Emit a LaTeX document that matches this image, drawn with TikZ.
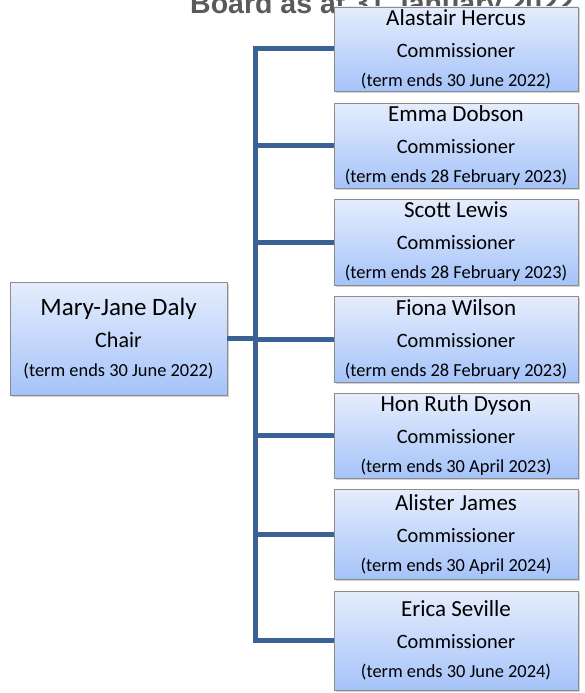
\documentclass[tikz,border=0pt]{standalone}
\usepackage{fontspec}
\setmainfont{Carlito}
\newfontfamily\titlefont{Liberation Sans}
\usetikzlibrary{shadows}
\definecolor{boxtop}{RGB}{229,237,252}
\definecolor{boxbot}{RGB}{165,195,249}
\definecolor{boxborder}{RGB}{140,140,140}
\definecolor{linkblue}{RGB}{60,97,148}
\definecolor{titlegray}{RGB}{90,90,90}
\newcommand{\mname}[1]{{\fontsize{23}{23}\selectfont #1}\\[3pt]}
\newcommand{\mterm}[1]{{\fontsize{18.4}{18.4}\selectfont #1}}
\tikzset{
  orgbox/.style={draw=boxborder, line width=0.8pt, top color=boxtop, bottom color=boxbot,
    inner sep=0pt, align=center, drop shadow={shadow xshift=1.5pt, shadow yshift=-1.5pt, fill=black!35},
    font=\fontsize{20.4}{29}\selectfont},
  member/.style={orgbox, minimum width=244pt},
  link/.style={draw=linkblue, line width=5pt},
  titletext/.style={font=\titlefont\bfseries\fontsize{28.5}{30}\selectfont, text=titlegray, inner sep=0pt}
}
\begin{document}
\begin{tikzpicture}[x=1pt,y=-1pt]
\useasboundingbox (0,0) rectangle (585,693);
\node[titletext, anchor=base west] (title) at (190,14) {Board as at 31 January 2022};
\coordinate (t) at (255,0);
\node[member, minimum height=84pt] (b1) at (456,49) {\mname{Alastair Hercus}Commissioner\\\mterm{(term ends 30 June 2022)}};
\node[member, minimum height=85pt] (b2) at (456,145.5) {\mname{Emma Dobson}Commissioner\\\mterm{(term ends 28 February 2023)}};
\node[member, minimum height=86pt] (b3) at (456,242) {\mname{Scott Lewis}Commissioner\\\mterm{(term ends 28 February 2023)}};
\node[member, minimum height=86pt] (b4) at (456,339) {\mname{Fiona Wilson}Commissioner\\\mterm{(term ends 28 February 2023)}};
\node[member, minimum height=85pt] (b5) at (456,435.5) {\mname{Hon Ruth Dyson}Commissioner\\\mterm{(term ends 30 April 2023)}};
\node[member, minimum height=90pt] (b6) at (456,534) {\mname{Alister James}Commissioner\\\mterm{(term ends 30 April 2024)}};
\node[member, minimum height=99pt] (b7) at (456,640.5) {\mname{Erica Seville}Commissioner\\\mterm{(term ends 30 June 2024)}};
\node[orgbox, minimum width=217pt, minimum height=113pt] (chair) at (118.5,338.5)
  {{\fontsize{25}{25}\selectfont Mary-Jane Daly}\\[3pt]{\fontsize{22}{22}\selectfont Chair}\\\mterm{(term ends 30 June 2022)}};
\draw[link] (b1.west) -| (t |- b7.west) -- (b7.west);
\foreach \b in {b2,b3,b4,b5,b6}{\draw[link] (t |- \b.west) -- (\b.west);}
\draw[link] (chair.east) -- (chair.east -| t);
\end{tikzpicture}
\end{document}
